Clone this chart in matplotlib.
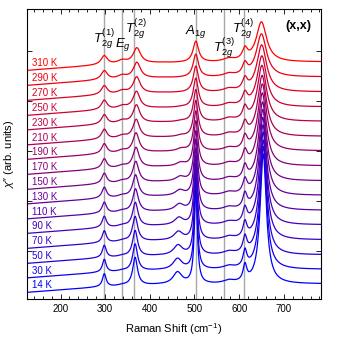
import numpy as np
import matplotlib
matplotlib.use("Agg")
import matplotlib.pyplot as plt
from matplotlib.ticker import MultipleLocator

plt.rcParams['font.family'] = ['Liberation Sans', 'DejaVu Sans']
plt.rcParams['mathtext.fontset'] = 'custom'
plt.rcParams['mathtext.rm'] = 'Liberation Sans'
plt.rcParams['mathtext.it'] = 'Liberation Sans:italic'

# temperaturas (K) y desplazamiento vertical de cada espectro
temps = [14, 30, 50, 70, 90, 110, 130, 150, 170, 190, 210, 230, 250, 270, 290, 310]
offsets = [-3.2, -1.75, -0.3, 1.2, 2.7, 4.15, 5.65, 7.1, 8.6, 10.1, 11.55, 13.05, 14.5, 16.0, 17.5, 19.0]

# fondo (relativo al nivel plano)
bg_x = [124, 200, 280, 420, 783]
bg_dy = [-0.95, -0.7, -0.45, -0.2, -0.1]

# modos: posicion (cm-1), amplitud y ancho (FWHM) para cada temperatura
t2g1_pos = 298
t2g1_amp = [1.3, 1.3, 1.25, 1.2, 1.15, 1.1, 1.1, 1.05, 1.0, 1.0, 1.0, 0.95, 0.95, 0.9, 0.9, 0.9]
t2g1_w = [10, 10, 10.5, 11, 11.5, 12, 12.5, 13, 13.5, 14, 14.5, 15, 15.5, 16, 16.5, 17]

eg_pos = 338
eg_amp = [0.1, 0.1, 0.12, 0.14, 0.16, 0.18, 0.2, 0.22, 0.24, 0.26, 0.28, 0.3, 0.3, 0.32, 0.34, 0.35]
eg_w = 25

t2g2_pos = [367, 367, 367, 367, 367.5, 368, 368, 368.5, 369, 369, 369.5, 370, 370, 370.5, 371, 371]
t2g2_amp = [2.8, 2.7, 2.6, 2.5, 2.4, 2.3, 2.2, 2.1, 2.0, 1.95, 1.85, 1.8, 1.7, 1.65, 1.6, 1.55]
t2g2_w = [13, 13, 13.5, 14, 14.5, 15, 15.5, 16, 16.5, 17, 17.5, 18, 18.5, 19, 19.5, 20]

bump_pos = [462, 462, 463, 464, 465, 466, 467, 468, 469, 470, 470, 470, 470, 470, 470, 470]
bump_amp = [1.2, 1.1, 1.0, 0.85, 0.75, 0.65, 0.55, 0.45, 0.35, 0.25, 0.15, 0.1, 0.05, 0.0, 0.0, 0.0]
bump_w = 24

a1g_pos = 503
a1g_amp = [9.5, 9.0, 8.3, 7.6, 6.9, 6.2, 5.6, 5.0, 4.5, 4.0, 3.6, 3.2, 2.9, 2.6, 2.3, 2.1]
a1g_w = [8, 8, 8.5, 9, 9.5, 10, 10.5, 11, 11.5, 12, 12.5, 13, 13.5, 14, 14.5, 15]

t2g3_pos = 577
t2g3_amp = 0.3
t2g3_w = 30

t2g4_pos = 613
t2g4_amp = [1.6, 1.6, 1.55, 1.5, 1.45, 1.4, 1.35, 1.3, 1.3, 1.25, 1.2, 1.2, 1.15, 1.1, 1.1, 1.1]
t2g4_w = [10, 10, 10.5, 10.5, 11, 11, 11.5, 11.5, 12, 12, 12.5, 12.5, 13, 13, 13.5, 14]

main_pos = [654, 654, 654, 654, 653.5, 653, 653, 652.5, 652, 652, 651.5, 651, 651, 650.5, 650, 650]
main_amp = [13.0, 12.3, 11.5, 10.8, 10.0, 9.3, 8.6, 7.9, 7.3, 6.7, 6.1, 5.6, 5.1, 4.7, 4.3, 4.0]
main_w = [17, 17.5, 18, 18.5, 19, 19.5, 20, 20.5, 21.5, 22.5, 23.5, 24.5, 25.5, 26.5, 27.5, 28]

# lineas verticales y etiquetas de los modos
mode_lines = [298, 338, 365, 503, 565, 612]
mode_labels = [r'$T_{2g}^{(1)}$', r'$E_g$', r'$T_{2g}^{(2)}$', r'$A_{1g}$', r'$T_{2g}^{(3)}$', r'$T_{2g}^{(4)}$']
label_x = [296, 340, 369, 502, 565, 609]
label_y = [21.2, 20.6, 22.2, 21.95, 20.3, 22.2]


def lor(x, x0, a, w):
    return a * (w / 2) ** 2 / ((x - x0) ** 2 + (w / 2) ** 2)


x = np.arange(124, 783.5, 0.5)

fig = plt.figure(figsize=(3.37, 3.37), dpi=100)
ax = fig.add_axes([0.079, 0.1128, 0.873, 0.8605])

for xv in mode_lines:
    ax.axvline(xv, color='#a8a8a8', lw=1.0, zorder=1)

n = len(temps)
for i in range(n):
    f = i / (n - 1)
    col = (f, 0.0, 1.0 - f)
    y = offsets[i] + np.interp(x, bg_x, bg_dy)
    y += lor(x, t2g1_pos, t2g1_amp[i], t2g1_w[i])
    y += lor(x, eg_pos, eg_amp[i], eg_w)
    y += lor(x, t2g2_pos[i], t2g2_amp[i], t2g2_w[i])
    y += lor(x, bump_pos[i], bump_amp[i], bump_w)
    y += lor(x, a1g_pos, a1g_amp[i], a1g_w[i])
    y += lor(x, t2g3_pos, t2g3_amp, t2g3_w)
    y += lor(x, t2g4_pos, t2g4_amp[i], t2g4_w[i])
    y += lor(x, main_pos[i], main_amp[i], main_w[i])
    ax.plot(x, y, color=col, lw=0.9, zorder=2)
    ax.text(135, offsets[i] - 0.25, f'{temps[i]} K', color=col, fontsize=7,
            ha='left', va='center', zorder=3)

for lab, lx, ly in zip(mode_labels, label_x, label_y):
    ax.text(lx, ly, lab, fontsize=9.5, ha='center', va='center')
ax.text(732, 22.5, '(x,x)', fontsize=9, fontweight='bold', ha='center', va='center')

ax.set_xlim(124, 783)
ax.set_ylim(-4.8, 24.2)
ax.xaxis.set_major_locator(MultipleLocator(100))
ax.xaxis.set_minor_locator(MultipleLocator(20))
ax.set_yticks([0, 5, 10, 15, 20])
ax.set_yticklabels([])
ax.tick_params(top=True, right=True, direction='in', which='both', labelsize=7)
ax.tick_params(which='major', length=3.5, width=0.6)
ax.tick_params(which='minor', length=2, width=0.6)
for s in ax.spines.values():
    s.set_linewidth(0.8)

ax.set_xlabel(r'Raman Shift (cm$^{-1}$)', fontsize=8, labelpad=5)
ax.set_ylabel("$\\chi$\u2033 (arb. units)", fontsize=8, labelpad=4)

fig.savefig('out.png', dpi=100)
